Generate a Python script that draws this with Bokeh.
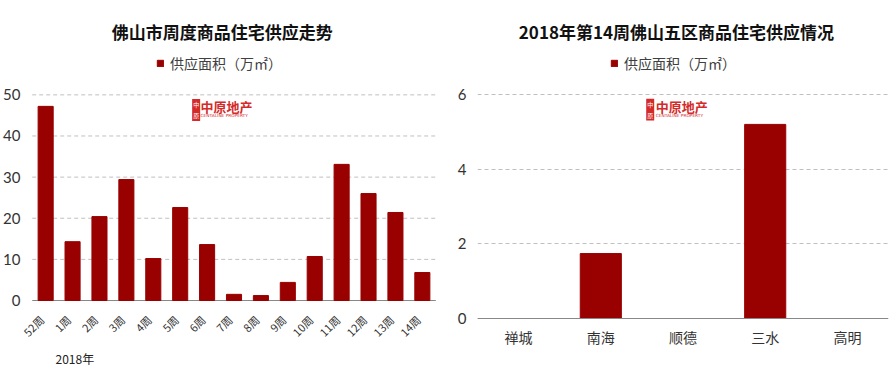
from bokeh.plotting import figure
from bokeh.models import (FactorRange, Range1d, Legend, LegendItem, Label, Span,
                          FixedTicker, ColumnDataSource)
from bokeh.core.properties import value
from bokeh.layouts import row
from bokeh.embed import file_html
from bokeh.resources import INLINE
import math

# ---- data ----
weeks = ["52周", "1周", "2周", "3周", "4周", "5周", "6周", "7周", "8周", "9周",
         "10周", "11周", "12周", "13周", "14周"]
weekly_supply = [47.2, 14.3, 20.4, 29.4, 10.2, 22.6, 13.6, 1.5, 1.2, 4.4,
                 10.7, 33.1, 26.0, 21.4, 6.8]
districts = ["禅城", "南海", "顺德", "三水", "高明"]
district_supply = [0, 1.74, 0, 5.2, 0]
left_ticks = [0, 10, 20, 30, 40, 50]
right_ticks = [0, 2, 4, 6]

title_left = "佛山市周度商品住宅供应走势"
title_right = "2018年第14周佛山五区商品住宅供应情况"
legend_label = "供应面积（万㎡）"
year_note = "2018年"

BAR = "#990000"
LOGO = "#d42a2a"
GRID = "#c0c0c0"
AXIS = "#888888"
CJK = "Noto Sans CJK SC"
NUM = "Lato"
H = 370


def base(width, factors, pad, y0, y1, border_left, border_right):
    p = figure(width=width, height=H,
               x_range=FactorRange(*factors, range_padding=pad,
                                   range_padding_units="absolute"),
               y_range=Range1d(y0, y1), output_backend="svg",
               toolbar_location=None, title_location=None, x_axis_location=None,
               min_border_left=border_left, min_border_right=border_right,
               min_border_top=0, min_border_bottom=0)
    p.xgrid.grid_line_color = None
    p.xgrid.visible = False
    p.yaxis.axis_line_color = None
    p.yaxis.major_tick_line_color = None
    p.yaxis.minor_tick_line_color = None
    p.yaxis.major_label_text_font = NUM
    p.yaxis.major_label_text_font_size = "15px"
    p.yaxis.major_label_text_color = "#333333"
    p.outline_line_color = None
    return p


def add_heads(p, r, title, tx, ty, legend_loc):
    legend = Legend(items=[LegendItem(label=legend_label, renderers=[r])],
                    orientation="horizontal", location=legend_loc,
                    border_line_color=None, background_fill_alpha=0,
                    label_text_font=CJK, label_text_font_size="14px",
                    label_text_color="#404040", glyph_width=8, glyph_height=8,
                    margin=0, padding=0, label_standoff=6)
    p.add_layout(legend, "center")
    p.add_layout(Label(x=tx, y=ty, text=title, text_font=CJK, text_font_size="17px",
                       text_font_style="bold", text_color="#111111",
                       text_align="center", text_baseline="middle"))


def add_logo(p, x_seal, y_seal, x_txt, y_txt, y_sub):
    p.add_layout(Label(x=x_seal, y=y_seal, text="中\n原", text_font=CJK,
                       text_font_size="6px", text_color="white",
                       background_fill_color=LOGO, text_align="center",
                       text_baseline="middle", padding=1))
    p.add_layout(Label(x=x_txt, y=y_txt, text="中原地产", text_font=CJK,
                       text_font_size="13px", text_font_style="bold",
                       text_color=LOGO, text_align="left", text_baseline="middle"))
    p.add_layout(Label(x=x_txt, y=y_sub, text="CENTALINE PROPERTY",
                       text_font="DejaVu Sans", text_font_size="4.3px",
                       text_color=LOGO, text_align="left", text_baseline="middle"))


# ---- left chart ----
p1 = base(448, weeks, 0.435, -17.02, 72.94, 20, 1)
p1.ygrid.grid_line_color = None
p1.yaxis.major_label_standoff = 0
p1.yaxis.major_tick_out = 0
p1.yaxis.major_tick_in = 0
p1.yaxis.ticker = FixedTicker(ticks=left_ticks)
grid_src = ColumnDataSource(dict(t=left_ticks[1:]))
p1.segment(x0=0, x1=len(weeks), y0="t", y1="t", source=grid_src,
           line_color=GRID, line_dash="4 3", line_width=1)
p1.segment(x0=0, x1=len(weeks), y0=left_ticks[0], y1=left_ticks[0],
           line_color=AXIS, line_width=1.2)
src1 = ColumnDataSource(dict(x=weeks, top=weekly_supply))
r1 = p1.vbar(x="x", top="top", width=0.56, source=src1, color=BAR)
p1.text(x="x", y=-4.13, text="x", source=src1, angle=math.pi / 4,
        x_offset=-4, text_align="right", text_baseline="middle",
        text_font=value(CJK), text_font_size=value("11px"), text_color="#333333")
add_heads(p1, r1, title_left, 7.063, 65.4, (136, 297))
add_logo(p1, 6.093, 46.32, 6.257, 47.05, 44.9)
p1.add_layout(Label(x=0.866, y=-14.1, text=year_note, text_font=CJK,
                    text_font_size="12px", text_color="#222222",
                    text_align="left", text_baseline="middle"))

# ---- right chart ----
p2 = base(442, districts, 0, -1.393, 8.519, 29, 2)
p2.ygrid.grid_line_color = GRID
p2.ygrid.grid_line_dash = "4 3"
p2.add_layout(Span(location=0, dimension="width", line_color=AXIS,
                   line_width=1.2))
src2 = ColumnDataSource(dict(x=districts, top=district_supply))
r2 = p2.vbar(x="x", top="top", width=0.5, source=src2, color=BAR)
p2.yaxis.ticker = FixedTicker(ticks=right_ticks)
p2.text(x="x", y=-0.50, text="x", source=src2, text_align="center",
        text_baseline="middle", text_font=value(CJK),
        text_font_size=value("14px"), text_color="#333333")
add_heads(p2, r2, title_right, 2.420, 7.698, (133, 297))
add_logo(p2, 2.101, 5.593, 2.168, 5.673, 5.437)

layout = row(p1, p2, spacing=0)
open("out.html", "w").write(file_html(layout, INLINE))
